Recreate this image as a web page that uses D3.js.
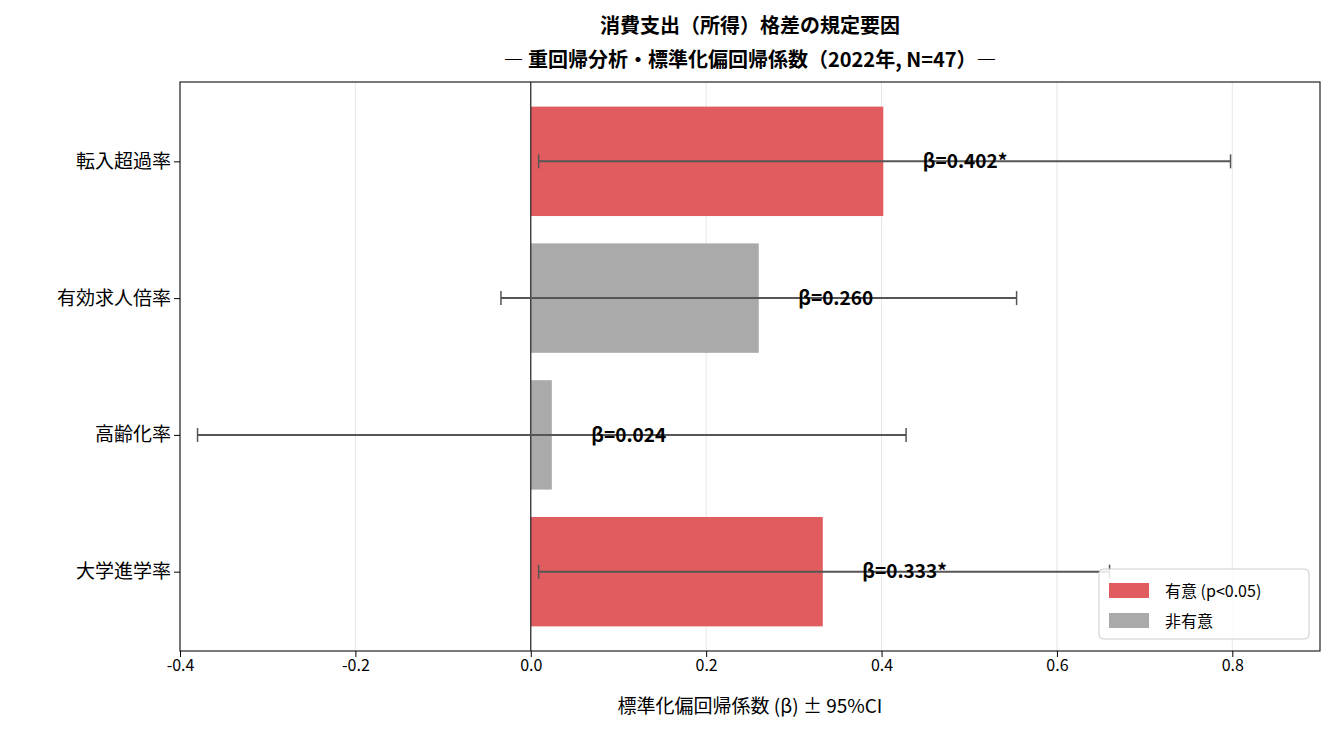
<!DOCTYPE html>
<html><head><meta charset="utf-8">
<script src="https://cdn.jsdelivr.net/npm/d3@7"></script>
<style>body{margin:0;background:#fff}text{font-family:"Noto Sans CJK JP","Noto Sans",sans-serif}</style>
</head><body><svg id="c" width="1335" height="735"></svg>
<script>
var categories = ["転入超過率", "有効求人倍率", "高齢化率", "大学進学率"],
    betas = [0.402, 0.260, 0.024, 0.333],
    ciLow = [0.009, -0.034, -0.380, 0.009],
    ciHigh = [0.798, 0.554, 0.428, 0.660],
    significant = [true, false, false, true],
    xTicks = [-0.4, -0.2, 0.0, 0.2, 0.4, 0.6, 0.8]

var svg = d3.select("#c"),
    pLeft = 180, pRight = 1320, pTop = 82, pBottom = 651,
    red = "#e05c5e", grey = "#aaaaaa"

var x = d3.scaleLinear().domain([-0.4, 0.9]).range([pLeft, pRight])
var y = d3.scaleLinear().domain([-0.58, 3.58]).range([pTop, pBottom])

// grid
svg.selectAll(".grid").data(xTicks).enter().append("line")
    .attr("x1", d => x(d)).attr("x2", d => x(d))
    .attr("y1", pTop).attr("y2", pBottom)
    .attr("stroke", "#e6e6e6").attr("stroke-width", 1)

// bars
svg.selectAll(".bar").data(betas).enter().append("rect")
    .attr("x", d => x(Math.min(0, d)))
    .attr("width", d => Math.abs(x(d) - x(0)))
    .attr("y", (d, i) => y(i - 0.4))
    .attr("height", y(0.4) - y(-0.4))
    .attr("fill", (d, i) => significant[i] ? red : grey)

// zero line
svg.append("line").attr("x1", x(0)).attr("x2", x(0)).attr("y1", pTop).attr("y2", pBottom)
    .attr("stroke", "#222").attr("stroke-width", 1.2)

// error bars
var eb = svg.selectAll(".eb").data(betas).enter().append("g").attr("stroke", "#555").attr("stroke-width", 2)
eb.append("line").attr("x1", (d, i) => x(ciLow[i])).attr("x2", (d, i) => x(ciHigh[i]))
    .attr("y1", (d, i) => y(i)).attr("y2", (d, i) => y(i))
eb.append("line").attr("x1", (d, i) => x(ciLow[i])).attr("x2", (d, i) => x(ciLow[i]))
    .attr("y1", (d, i) => y(i) - 7).attr("y2", (d, i) => y(i) + 7).attr("stroke-width", 1.5)
eb.append("line").attr("x1", (d, i) => x(ciHigh[i])).attr("x2", (d, i) => x(ciHigh[i]))
    .attr("y1", (d, i) => y(i) - 7).attr("y2", (d, i) => y(i) + 7).attr("stroke-width", 1.5)

// value labels
svg.selectAll(".lbl").data(betas).enter().append("text")
    .attr("x", d => x(d + 0.045)).attr("y", (d, i) => y(i))
    .attr("dy", "0.35em").attr("font-size", 19).attr("font-weight", "bold")
    .text((d, i) => "β=" + d.toFixed(3) + (significant[i] ? "*" : ""))

// frame
svg.append("rect").attr("x", pLeft).attr("y", pTop).attr("width", pRight - pLeft).attr("height", pBottom - pTop)
    .attr("fill", "none").attr("stroke", "#222").attr("stroke-width", 1.2)

// axes
svg.append("g").attr("transform", "translate(0," + pBottom + ")")
    .call(d3.axisBottom(x).tickValues(xTicks).tickFormat(d => d.toFixed(1)).tickSizeOuter(0))
    .call(g => g.select(".domain").remove())
    .selectAll("text").attr("font-size", 16).attr("fill", "#000")
svg.append("g").attr("transform", "translate(" + pLeft + ",0)")
    .call(d3.axisLeft(y).tickValues([0, 1, 2, 3]).tickFormat(i => categories[i]).tickSizeOuter(0))
    .call(g => g.select(".domain").remove())
    .selectAll("text").attr("font-size", 19).attr("fill", "#000")

svg.append("text").attr("x", (pLeft + pRight) / 2).attr("y", 713).attr("text-anchor", "middle")
    .attr("font-size", 19).text("標準化偏回帰係数 (β) ± 95%CI")

svg.append("text").attr("x", (pLeft + pRight) / 2).attr("y", 33).attr("text-anchor", "middle")
    .attr("font-size", 20).attr("font-weight", "bold").text("消費支出（所得）格差の規定要因")
svg.append("text").attr("x", (pLeft + pRight) / 2).attr("y", 67).attr("text-anchor", "middle")
    .attr("font-size", 20).attr("font-weight", "bold").text("― 重回帰分析・標準化偏回帰係数（2022年, N=47）―")

// legend
var lg = svg.append("g").attr("transform", "translate(1099,569)")
lg.append("rect").attr("width", 210).attr("height", 70).attr("rx", 4)
    .attr("fill", "#fff").attr("fill-opacity", 0.85).attr("stroke", "#ccc")
;[["有意 (p<0.05)", red], ["非有意", grey]].forEach(function(d, i) {
    lg.append("rect").attr("x", 10).attr("y", 14 + i * 30).attr("width", 40).attr("height", 15).attr("fill", d[1])
    lg.append("text").attr("x", 66).attr("y", 22 + i * 30).attr("dy", "0.35em").attr("font-size", 16).text(d[0])
})
</script></body></html>
